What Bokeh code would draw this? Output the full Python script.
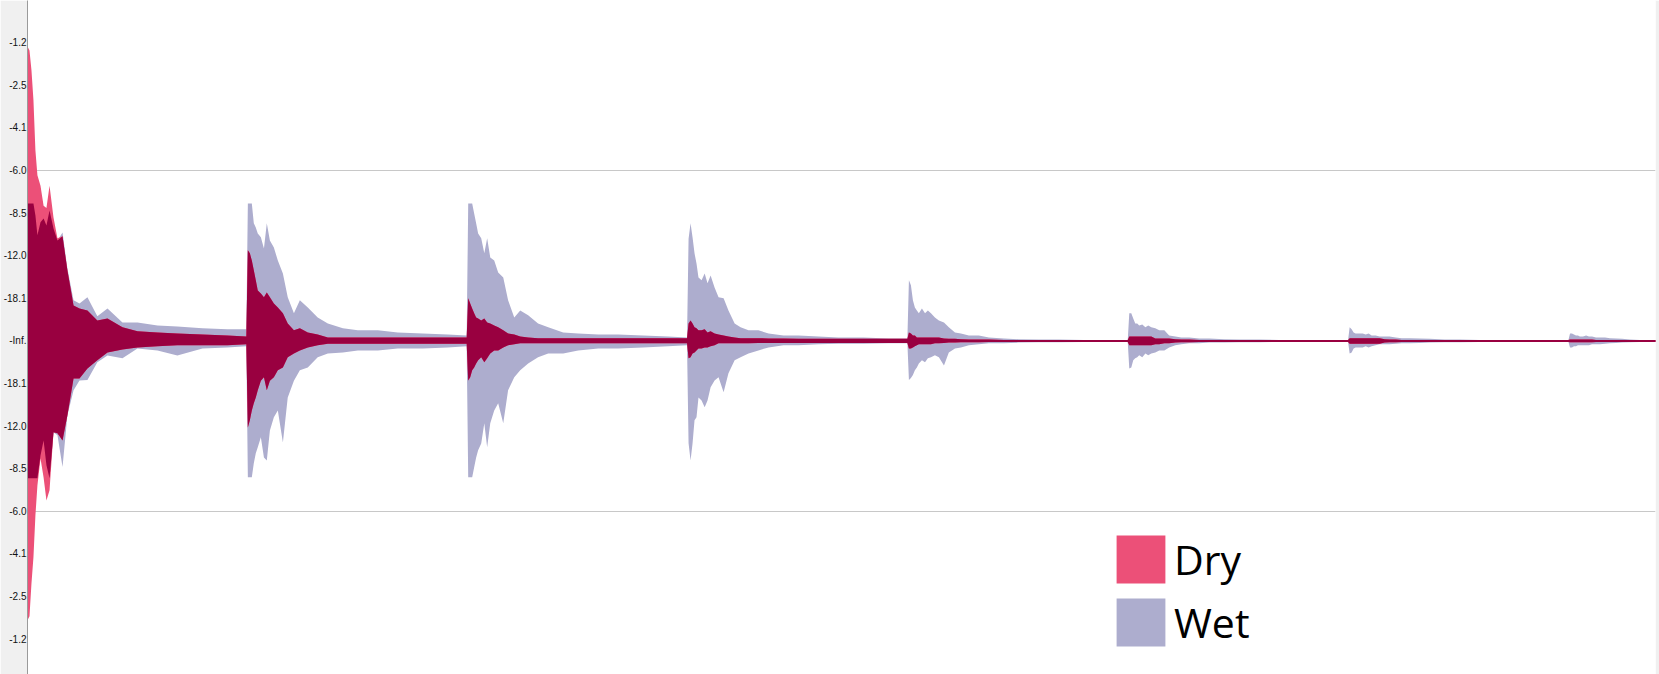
import numpy as np
from bokeh.plotting import figure
from bokeh.models import Range1d, FixedTicker, Legend, LegendItem
from bokeh.embed import file_html
from bokeh.resources import INLINE

# ---------------- data (amplitude, linear) ----------------
ECHO_START_MS = [0, 500, 1000, 1500, 2000, 2500, 3000, 3500]
OFFSET_MS = [0, 4.5, 9, 13.5, 18, 22.5, 29.5, 36.5, 43, 50, 59, 68, 79.5, 90.5,
             104.5, 118, 136, 158.5, 181.5, 215.5, 249.5, 295, 340, 397, 453.5, 496.5]

DRY_TOP = [
    [0.864, 0.852, 0.794, 0.706, 0.559, 0.486, 0.455, 0.397, 0.390, 0.455, 0.362, 0.301, 0.307,
     0.207, 0.104, 0.095, 0.089, 0.060, 0.066, 0.040, 0.028, 0.025, 0.022, 0.019, 0.016, 0.013],
    [0.266, 0.257, 0.236, 0.207, 0.178, 0.148, 0.139, 0.128, 0.142, 0.128, 0.110, 0.098, 0.081,
     0.051, 0.031, 0.037, 0.025, 0.019, 0.010, 0.010, 0.010, 0.010, 0.010, 0.010, 0.010, 0.010],
    [0.125, 0.110, 0.095, 0.081, 0.069, 0.066, 0.060, 0.066, 0.054, 0.051, 0.045, 0.040, 0.031,
     0.022, 0.019, 0.013, 0.010, 0.008, 0.008, 0.008, 0.008, 0.008, 0.008, 0.008, 0.008, 0.008],
    [0.051, 0.060, 0.051, 0.040, 0.037, 0.031, 0.031, 0.034, 0.025, 0.028, 0.022, 0.019, 0.016,
     0.013, 0.010, 0.008, 0.008, 0.008, 0.007, 0.007, 0.006, 0.006, 0.006, 0.006, 0.006, 0.006],
    [0.025, 0.022, 0.016, 0.016, 0.010, 0.010, 0.010, 0.010, 0.010, 0.010, 0.010, 0.010, 0.007,
     0.006, 0.006, 0.005, 0.004, 0.004, 0.004, 0.003, 0.003, 0.003, 0.003, 0.003, 0.003, 0.003],
    [0.013, 0.013, 0.013, 0.013, 0.013, 0.013, 0.013, 0.013, 0.013, 0.013, 0.007, 0.007, 0.007,
     0.007, 0.005, 0.004, 0.004, 0.003, 0.003, 0.003, 0.003, 0.003, 0.003, 0.003, 0.003, 0.003],
    [0.008, 0.008, 0.008, 0.008, 0.008, 0.008, 0.008, 0.008, 0.008, 0.008, 0.008, 0.008, 0.005,
     0.004, 0.004, 0.003, 0.003, 0.003, 0.003, 0.003, 0.003, 0.003, 0.003, 0.003, 0.003, 0.003],
    [0.004, 0.004, 0.004, 0.004, 0.004, 0.004, 0.004, 0.004, 0.004, 0.004, 0.003, 0.003, 0.003,
     0.003, 0.003, 0.003, 0.003, 0.003, 0.003, 0.003, 0.003, 0.003, 0.003, 0.003, 0.003, 0.003],
]
DRY_BOT = [
    [-0.820, -0.808, -0.712, -0.635, -0.512, -0.424, -0.345, -0.401, -0.468, -0.438, -0.268, -0.271, -0.292,
     -0.219, -0.110, -0.110, -0.081, -0.057, -0.034, -0.025, -0.019, -0.016, -0.013, -0.013, -0.013, -0.010],
    [-0.254, -0.233, -0.204, -0.183, -0.166, -0.145, -0.117, -0.107, -0.145, -0.117, -0.107, -0.086, -0.078,
     -0.048, -0.037, -0.028, -0.019, -0.013, -0.008, -0.008, -0.008, -0.008, -0.008, -0.008, -0.008, -0.008],
    [-0.116, -0.107, -0.086, -0.078, -0.066, -0.057, -0.048, -0.063, -0.051, -0.037, -0.028, -0.028, -0.019,
     -0.013, -0.010, -0.007, -0.007, -0.007, -0.007, -0.007, -0.007, -0.007, -0.007, -0.007, -0.007, -0.007],
    [-0.051, -0.048, -0.037, -0.034, -0.028, -0.022, -0.022, -0.019, -0.019, -0.016, -0.013, -0.007, -0.007,
     -0.007, -0.007, -0.007, -0.007, -0.006, -0.006, -0.006, -0.006, -0.006, -0.006, -0.006, -0.006, -0.006],
    [-0.022, -0.022, -0.019, -0.016, -0.013, -0.010, -0.010, -0.010, -0.010, -0.010, -0.007, -0.007, -0.006,
     -0.005, -0.005, -0.004, -0.004, -0.004, -0.003, -0.003, -0.003, -0.003, -0.003, -0.003, -0.003, -0.003],
    [-0.013, -0.013, -0.013, -0.013, -0.013, -0.013, -0.013, -0.013, -0.013, -0.013, -0.010, -0.010, -0.007,
     -0.007, -0.005, -0.004, -0.004, -0.003, -0.003, -0.003, -0.003, -0.003, -0.003, -0.003, -0.003, -0.003],
    [-0.008, -0.008, -0.008, -0.008, -0.008, -0.008, -0.008, -0.008, -0.008, -0.008, -0.008, -0.008, -0.005,
     -0.004, -0.004, -0.003, -0.003, -0.003, -0.003, -0.003, -0.003, -0.003, -0.003, -0.003, -0.003, -0.003],
    [-0.004, -0.004, -0.004, -0.004, -0.004, -0.004, -0.004, -0.004, -0.004, -0.004, -0.003, -0.003, -0.003,
     -0.003, -0.003, -0.003, -0.003, -0.003, -0.003, -0.003, -0.003, -0.003, -0.003, -0.003, -0.003, -0.003],
]
WET_TOP = [
    [0.403, 0.403, 0.403, 0.403, 0.368, 0.310, 0.348, 0.359, 0.339, 0.383, 0.330, 0.295, 0.318,
     0.213, 0.119, 0.110, 0.128, 0.072, 0.095, 0.054, 0.054, 0.045, 0.042, 0.037, 0.034, 0.034],
    [0.403, 0.403, 0.403, 0.345, 0.333, 0.315, 0.304, 0.271, 0.345, 0.295, 0.274, 0.236, 0.198,
     0.128, 0.081, 0.119, 0.098, 0.069, 0.051, 0.037, 0.031, 0.031, 0.025, 0.022, 0.019, 0.016],
    [0.403, 0.403, 0.403, 0.374, 0.345, 0.315, 0.301, 0.257, 0.301, 0.245, 0.236, 0.201, 0.186,
     0.119, 0.069, 0.089, 0.075, 0.051, 0.040, 0.025, 0.022, 0.019, 0.019, 0.016, 0.013, 0.010],
    [0.300, 0.345, 0.304, 0.257, 0.227, 0.186, 0.178, 0.198, 0.169, 0.192, 0.157, 0.128, 0.125,
     0.089, 0.051, 0.040, 0.031, 0.031, 0.022, 0.016, 0.016, 0.013, 0.010, 0.010, 0.007, 0.007],
    [0.178, 0.163, 0.119, 0.098, 0.089, 0.081, 0.095, 0.081, 0.089, 0.081, 0.069, 0.060, 0.054,
     0.040, 0.025, 0.022, 0.016, 0.016, 0.010, 0.007, 0.005, 0.004, 0.004, 0.003, 0.003, 0.003],
    [0.081, 0.081, 0.066, 0.051, 0.051, 0.045, 0.048, 0.040, 0.045, 0.040, 0.037, 0.031, 0.031,
     0.016, 0.013, 0.010, 0.010, 0.007, 0.007, 0.005, 0.004, 0.004, 0.003, 0.003, 0.003, 0.003],
    [0.040, 0.034, 0.025, 0.022, 0.022, 0.022, 0.022, 0.019, 0.022, 0.016, 0.016, 0.013, 0.013,
     0.013, 0.010, 0.008, 0.008, 0.007, 0.006, 0.004, 0.004, 0.003, 0.003, 0.003, 0.003, 0.003],
    [0.022, 0.022, 0.019, 0.016, 0.016, 0.013, 0.013, 0.016, 0.013, 0.013, 0.010, 0.010, 0.010,
     0.008, 0.007, 0.006, 0.004, 0.003, 0.003, 0.003, 0.003, 0.003, 0.003, 0.003, 0.003, 0.003],
]
WET_BOT = [
    [-0.403, -0.403, -0.403, -0.403, -0.403, -0.403, -0.336, -0.292, -0.365, -0.403, -0.268, -0.277, -0.370,
     -0.219, -0.145, -0.116, -0.115, -0.063, -0.043, -0.051, -0.022, -0.028, -0.043, -0.022, -0.019, -0.016],
    [-0.400, -0.400, -0.400, -0.359, -0.330, -0.312, -0.283, -0.342, -0.351, -0.263, -0.224, -0.204, -0.298,
     -0.166, -0.117, -0.086, -0.078, -0.048, -0.037, -0.034, -0.028, -0.028, -0.022, -0.022, -0.019, -0.016],
    [-0.400, -0.400, -0.400, -0.371, -0.342, -0.321, -0.301, -0.242, -0.312, -0.242, -0.204, -0.183, -0.242,
     -0.145, -0.107, -0.086, -0.066, -0.048, -0.037, -0.037, -0.028, -0.022, -0.022, -0.019, -0.016, -0.013],
    [-0.300, -0.351, -0.301, -0.233, -0.224, -0.166, -0.175, -0.195, -0.175, -0.136, -0.116, -0.107, -0.151,
     -0.095, -0.057, -0.048, -0.037, -0.028, -0.019, -0.013, -0.013, -0.010, -0.008, -0.008, -0.007, -0.007],
    [-0.115, -0.109, -0.100, -0.086, -0.078, -0.066, -0.057, -0.063, -0.051, -0.048, -0.042, -0.048, -0.072,
     -0.034, -0.022, -0.019, -0.013, -0.010, -0.007, -0.007, -0.005, -0.004, -0.004, -0.003, -0.003, -0.003],
    [-0.081, -0.078, -0.057, -0.051, -0.048, -0.042, -0.048, -0.037, -0.042, -0.037, -0.034, -0.028, -0.028,
     -0.019, -0.013, -0.010, -0.007, -0.007, -0.005, -0.005, -0.004, -0.004, -0.003, -0.003, -0.003, -0.003],
    [-0.037, -0.034, -0.022, -0.019, -0.019, -0.019, -0.019, -0.016, -0.019, -0.016, -0.013, -0.010, -0.010,
     -0.010, -0.008, -0.007, -0.007, -0.006, -0.005, -0.004, -0.004, -0.003, -0.003, -0.003, -0.003, -0.003],
    [-0.019, -0.019, -0.016, -0.016, -0.013, -0.013, -0.013, -0.013, -0.013, -0.010, -0.010, -0.010, -0.008,
     -0.007, -0.006, -0.005, -0.004, -0.003, -0.003, -0.003, -0.003, -0.003, -0.003, -0.003, -0.003, -0.003],
]

TICK_VALUES = [0.875, 0.75, 0.625, 0.5, 0.375, 0.25, 0.125, 0.0,
               -0.125, -0.25, -0.375, -0.5, -0.625, -0.75, -0.875]
TICK_LABELS = ["-1.2", "-2.5", "-4.1", "-6.0", "-8.5", "-12.0", "-18.1", "-Inf.",
               "-18.1", "-12.0", "-8.5", "-6.0", "-4.1", "-2.5", "-1.2"]
GRID_VALUES = [0.5, -0.5]
SERIES_NAMES = ["Dry", "Wet"]

# ---------------- build arrays ----------------
t = np.concatenate([s + np.array(OFFSET_MS) for s in ECHO_START_MS])
dry_top = np.concatenate([np.array(v) for v in DRY_TOP])
dry_bot = np.concatenate([np.array(v) for v in DRY_BOT])
wet_top = np.concatenate([np.array(v) for v in WET_TOP])
wet_bot = np.concatenate([np.array(v) for v in WET_BOT])
both_top = np.minimum(dry_top, wet_top)
both_bot = np.maximum(dry_bot, wet_bot)

PINK = "#EC5078"
LAVENDER = "#ADADCE"
CRIMSON = "#990040"

p = figure(width=1659, height=674, output_backend="svg", toolbar_location=None,
           x_range=Range1d(0, 3694), y_range=Range1d(-0.979, 0.999),
           x_axis_location=None, min_border_left=26, min_border_right=4,
           min_border_top=0, min_border_bottom=0)
p.border_fill_color = "#F0F0F0"
p.background_fill_color = "white"
p.outline_line_color = None

wet_r = p.varea(x=t, y1=wet_bot, y2=wet_top, fill_color=LAVENDER)
dry_r = p.varea(x=t, y1=dry_bot, y2=dry_top, fill_color=PINK)
p.varea(x=t, y1=both_bot, y2=both_top, fill_color=CRIMSON)

p.xgrid.visible = False
p.ygrid.ticker = FixedTicker(ticks=GRID_VALUES)
p.ygrid.grid_line_color = "#C8C8C8"
p.ygrid.grid_line_width = 1

ax = p.yaxis[0]
ax.ticker = FixedTicker(ticks=TICK_VALUES)
ax.major_label_overrides = {v: s for v, s in zip(TICK_VALUES, TICK_LABELS)}
ax.minor_tick_line_color = None
ax.major_tick_out = 0
ax.major_tick_in = 0
ax.axis_line_color = "#9A9A9A"
ax.major_label_standoff = 1
ax.major_label_text_font = "Liberation Sans"
ax.major_label_text_font_size = "10px"
ax.major_label_text_color = "#111111"

legend = Legend(items=[LegendItem(label=SERIES_NAMES[0], renderers=[dry_r]),
                       LegendItem(label=SERIES_NAMES[1], renderers=[wet_r])],
                location=(1083, 22), orientation="vertical",
                glyph_width=61, glyph_height=60, label_height=60, label_width=60,
                label_standoff=3, spacing=3, padding=0, margin=0,
                label_text_font="Open Sans", label_text_font_size="41px",
                label_text_color="black",
                border_line_alpha=0, background_fill_alpha=0)
p.add_layout(legend)

open("out.html", "w").write(file_html(p, INLINE))
